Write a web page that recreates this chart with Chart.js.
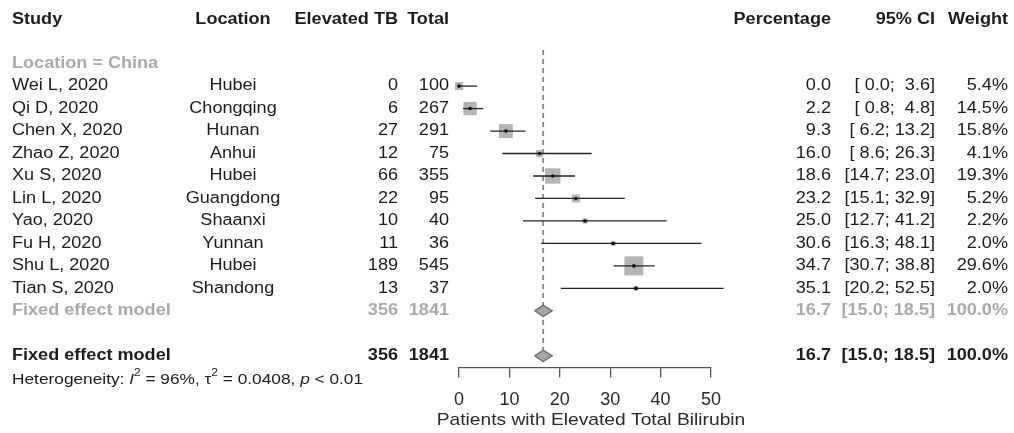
<!DOCTYPE html>
<html>
<head>
<meta charset="utf-8">
<script src="https://cdn.jsdelivr.net/npm/chart.js@4/dist/chart.umd.min.js"></script>
<style>
  html, body { margin: 0; padding: 0; background: #fff; }
  #wrap { width: 1014px; height: 433px; position: relative; }
</style>
</head>
<body>
<div id="wrap"><canvas id="chart"></canvas></div>
<script>
const FONT = '"Liberation Sans", Arial, Helvetica, sans-serif'
const SX = 1.13 // the reference text is a bit wider than it is tall

const headers = ['Study', 'Location', 'Elevated TB', 'Total', 'Percentage', '95% CI', 'Weight']
const groupLabel = 'Location = China'
const studies = ['Wei L, 2020', 'Qi D, 2020', 'Chen X, 2020', 'Zhao Z, 2020', 'Xu S, 2020',
  'Lin L, 2020', 'Yao, 2020', 'Fu H, 2020', 'Shu L, 2020', 'Tian S, 2020']
const locations = ['Hubei', 'Chongqing', 'Hunan', 'Anhui', 'Hubei', 'Guangdong', 'Shaanxi', 'Yunnan', 'Hubei', 'Shandong']
const events = [0, 6, 27, 12, 66, 22, 10, 11, 189, 13]
const totals = [100, 267, 291, 75, 355, 95, 40, 36, 545, 37]
const percent = [0.0, 2.2, 9.3, 16.0, 18.6, 23.2, 25.0, 30.6, 34.7, 35.1]
const lower = [0.0, 0.8, 6.2, 8.6, 14.7, 15.1, 12.7, 16.3, 30.7, 20.2]
const upper = [3.6, 4.8, 13.2, 26.3, 23.0, 32.9, 41.2, 48.1, 38.8, 52.5]
const weights = [5.4, 14.5, 15.8, 4.1, 19.3, 5.2, 2.2, 2.0, 29.6, 2.0]

const pooledLabel = 'Fixed effect model'
const pooledEvents = 356
const pooledTotal = 1841
const pooledEst = 16.7
const pooledLower = 15.0
const pooledUpper = 18.5
const pooledWeight = '100.0%'

const xTicks = [0, 10, 20, 30, 40, 50]
const xTitle = 'Patients with Elevated Total Bilirubin'

// row numbers on the y scale
const ROW_HEADER = -1.95, ROW_GROUP = 0, ROW_POOL_SUB = 11, ROW_POOL = 13, ROW_HET = 14.05
const studyRow = i => i + 1

const GREY = '#a9a9a9'
const INK = '#1c1c1c'

function fmtCI(lo, hi) {
  const pad = v => (v < 10 ? ' ' : '') + v.toFixed(1)
  return '[' + pad(lo) + '; ' + pad(hi) + ']'
}

function diamond(row) {
  const h = 0.25
  return [
    { x: pooledLower, y: row }, { x: pooledEst, y: row - h },
    { x: pooledUpper, y: row }, { x: pooledEst, y: row + h }, { x: pooledLower, y: row }
  ]
}

const datasets = []

// CI whiskers
studies.forEach((s, i) => {
  datasets.push({
    type: 'line',
    data: [{ x: lower[i], y: studyRow(i) }, { x: upper[i], y: studyRow(i) }],
    borderColor: '#222', borderWidth: 1.3, pointRadius: 0,
    clip: false, order: 2
  })
})

// weighted squares
datasets.push({
  type: 'scatter',
  data: percent.map((p, i) => ({ x: p, y: studyRow(i) })),
  pointStyle: 'rect',
  pointRadius: weights.map(w => 19 * Math.sqrt(w / 29.6) / Math.SQRT2),
  backgroundColor: '#b4b4b4', borderWidth: 0, order: 3, clip: false
})

// point estimates
datasets.push({
  type: 'scatter',
  data: percent.map((p, i) => ({ x: p, y: studyRow(i) })),
  pointRadius: 1.8, backgroundColor: '#111', borderWidth: 0, order: 1, clip: false
})

// reference line at pooled estimate
datasets.push({
  type: 'line',
  data: [{ x: pooledEst, y: -0.6 }, { x: pooledEst, y: 13.3 }],
  borderColor: '#8a8a8a', borderWidth: 1.8, borderDash: [5, 4],
  pointRadius: 0, order: 5, clip: false
})

// pooled diamonds
;[ROW_POOL_SUB, ROW_POOL].forEach(r => {
  datasets.push({
    type: 'line',
    data: diamond(r),
    borderColor: '#666', borderWidth: 1.2, backgroundColor: '#a6a6a6',
    fill: 'shape', pointRadius: 0, tension: 0, order: 4, clip: false
  })
})

const tablePlugin = {
  id: 'table',
  afterDraw(chart) {
    const ctx = chart.ctx
    const ys = chart.scales.y
    const xs = chart.scales.x
    const putAt = (text, x, y, align, font, color) => {
      ctx.save()
      ctx.font = font
      ctx.fillStyle = color
      ctx.textAlign = align
      ctx.textBaseline = 'middle'
      ctx.translate(x, y)
      ctx.scale(SX, 1)
      ctx.fillText(text, 0, 0)
      ctx.restore()
    }
    const put = (text, x, row, align, size, bold, color) =>
      putAt(text, x, ys.getPixelForValue(row), align, (bold ? 'bold ' : '') + size + 'px ' + FONT, color)

    const cols = [
      [12, 'left'], [233, 'center'], [398, 'right'], [449, 'right'],
      [831, 'right'], [935, 'right'], [1008, 'right']
    ]
    headers.forEach((h, i) => put(h, cols[i][0], ROW_HEADER, cols[i][1], 16, true, INK))

    put(groupLabel, 12, ROW_GROUP, 'left', 16, true, GREY)

    studies.forEach((s, i) => {
      const r = studyRow(i)
      const vals = [s, locations[i], String(events[i]), String(totals[i]),
        percent[i].toFixed(1), fmtCI(lower[i], upper[i]), weights[i].toFixed(1) + '%']
      vals.forEach((v, c) => put(v, cols[c][0], r, cols[c][1], 16, false, INK))
    })

    const pooledVals = [pooledLabel, '', String(pooledEvents), String(pooledTotal),
      pooledEst.toFixed(1), fmtCI(pooledLower, pooledUpper), pooledWeight]
    pooledVals.forEach((v, c) => {
      if (v) put(v, cols[c][0], ROW_POOL_SUB, cols[c][1], 16, true, GREY)
    })
    pooledVals.forEach((v, c) => {
      if (v) put(v, cols[c][0], ROW_POOL, cols[c][1], 16, true, INK)
    })

    // heterogeneity line with italics and superscripts
    const segs = [
      ['Heterogeneity: ', ''], ['I', 'italic'], ['2', 'sup'], [' = 96%, \u03c4', ''],
      ['2', 'sup'], [' = 0.0408, ', ''], ['p', 'italic'], [' < 0.01', '']
    ]
    let x = 12
    const yh = ys.getPixelForValue(ROW_HET)
    segs.forEach(([t, k]) => {
      ctx.save()
      const size = k === 'sup' ? 10.5 : 15.3
      ctx.font = (k === 'italic' ? 'italic ' : '') + size + 'px ' + FONT
      ctx.fillStyle = INK
      ctx.textAlign = 'left'
      ctx.textBaseline = 'middle'
      ctx.translate(x, yh + (k === 'sup' ? -6 : 0))
      ctx.scale(SX, 1)
      ctx.fillText(t, 0, 0)
      x += ctx.measureText(t).width * SX
      ctx.restore()
    })

    // x axis title, a little right of the scale centre as in the reference
    putAt(xTitle, (xs.left + xs.right) / 2 + 6, 420, 'center', '17px ' + FONT, '#2a2a2a')
  }
}

new Chart(document.getElementById('chart'), {
  type: 'scatter',
  data: { datasets },
  options: {
    responsive: true,
    maintainAspectRatio: false,
    animation: false,
    events: [],
    layout: { autoPadding: false, padding: { left: 459, right: 303, top: 0, bottom: 0 } },
    plugins: {
      legend: { display: false },
      tooltip: { enabled: false }
    },
    scales: {
      x: {
        type: 'linear',
        min: 0,
        max: 50,
        border: { display: true, color: '#555', width: 1.3 },
        grid: { drawOnChartArea: false, drawTicks: true, tickLength: 10, color: '#555', lineWidth: 1.3 },
        afterBuildTicks: axis => { axis.ticks = xTicks.map(v => ({ value: v })) },
        afterFit: axis => { axis.height = 65.5 },
        ticks: { color: '#2a2a2a', font: { family: FONT, size: 18 }, padding: 11.7, maxRotation: 0 },
        title: { display: false }
      },
      y: {
        type: 'linear',
        reverse: true,
        min: -2.83,
        max: 13.52,
        display: false
      }
    }
  },
  plugins: [tablePlugin]
})
</script>
</body>
</html>
